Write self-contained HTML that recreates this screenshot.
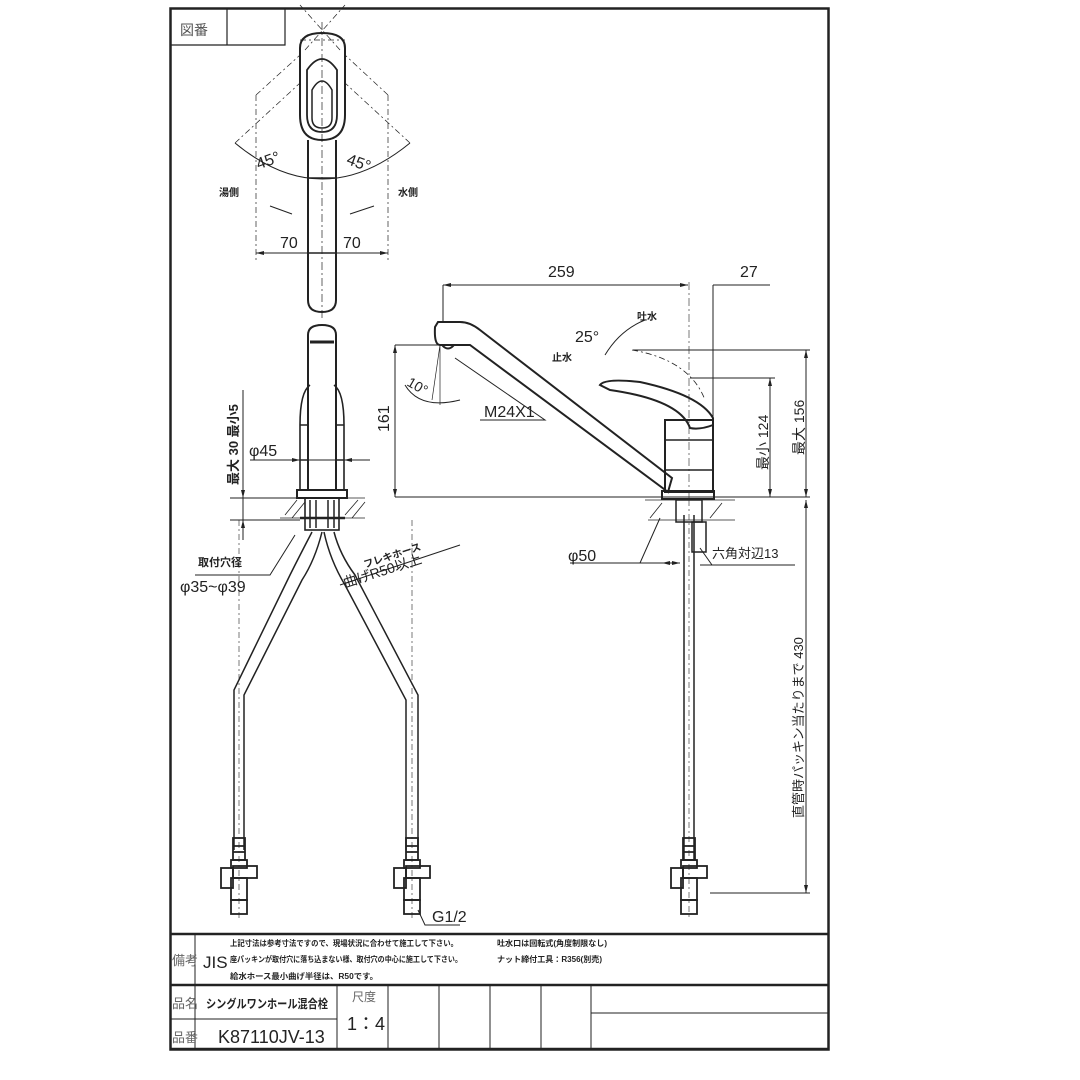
<!DOCTYPE html>
<html><head><meta charset="utf-8"><style>
html,body{margin:0;padding:0;background:#fff}
svg{display:block}
text{font-family:"Liberation Sans","Noto Sans CJK JP",sans-serif;fill:#222}
.d{font-size:16px}
.j{font-size:10px;font-weight:bold}
</style></head><body>
<svg width="1080" height="1080" viewBox="0 0 1080 1080" xmlns="http://www.w3.org/2000/svg">
<defs>
<g id="v" fill="none" stroke="#222" stroke-width="1.8"><rect x="-6" y="0" width="12" height="22"/><path d="M-6 8H6M-6 14H6"/><rect x="-8" y="22" width="16" height="8"/><rect x="-18" y="30" width="12" height="20"/><rect x="-6" y="28" width="24" height="12"/><rect x="-8" y="40" width="16" height="22"/><rect x="-8" y="62" width="16" height="14"/></g>
</defs>
<g fill="none" stroke="#222" stroke-width="1">
<!-- frame -->
<rect x="170.5" y="8.5" width="658" height="1041" stroke-width="2.5"/>
<path d="M170 45H285V8M227 8V45" stroke-width="1.2"/>
<path d="M170 934H828M170 985H828M170 1049H828" stroke-width="2.5"/>
<path d="M195 934V1049M337 985V1049M170 1019H337M388 985V1049M439 985V1049M490 985V1049M541 985V1049M591 985V1049M591 1013H828"/>
<!-- top view -->
<path d="M322 22V320" stroke-dasharray="8 3 2 3" stroke-width="0.7"/>
<path d="M300 48 Q300 33 322 33 Q345 33 345 48 L345 115 Q345 140 322 140 Q300 140 300 115Z" stroke-width="2"/>
<path d="M307 70 Q322 48 337 70 L337 115 Q337 132 322 132 Q307 132 307 115Z" stroke-width="1.8"/>
<path d="M312 90 Q322 72 332 90 L332 118 Q332 128 322 128 Q312 128 312 118Z" stroke-width="1.5"/>
<path d="M308 140 V300 Q308 312 322 312 Q336 312 336 300 V140" stroke-width="2"/>
<path d="M308 178H336M308 253H336" stroke-width="1.5"/>
<path d="M235 143 Q322 215 410 143" stroke-width="1"/>
<path d="M235 143 L300 83M410 143 L345 83M256 95V260M388 95V260M256 95 L300 55M388 95 L345 55M300 40 L345 40M305 50 L345 5M340 50 L300 5" stroke-dasharray="6 3 2 3" stroke-width="0.7"/>
<path d="M256 253H388" />
<path d="M270 206 L292 214M350 214 L374 206"/>
<!-- front view body -->
<path d="M308 490 V335 Q308 325 322 325 Q336 325 336 335 V490" stroke-width="2"/>
<path d="M310 342 H334" stroke-width="3"/>
<path d="M300 490V425 Q300 392 310 385 M344 490 V425 Q344 392 334 385 M300 425H308M336 425H344M300 460H308M336 460H344" stroke-width="1.6"/>
<rect x="297" y="490" width="50" height="8" stroke-width="2"/>
<path d="M280 498H365M280 518H365M285 515 L297 500M292 518 L305 502M345 515 L358 500M352 518 L365 502" stroke-width="0.8"/>
<rect x="305" y="498" width="34" height="32" stroke-width="1.6"/>
<path d="M310 500V528M316 500V528M328 500V528M334 500V528" stroke-width="1.5"/>
<path d="M300 518H345" stroke-width="2.5"/>
<!-- hoses -->
<path d="M312 532 Q300 555 290 575 L234 690 V850 M322 532 Q315 560 302 580 L244 695 V850" stroke-width="1.5"/>
<path d="M324 532 Q330 560 345 585 L406 700 V850 M334 532 Q340 555 355 575 L418 695 V850" stroke-width="1.5"/>
<path d="M684 515 V860 M694 515 V860" stroke-width="1.5"/>
<path d="M689 500 V920M239 520 V918M412 520 V918" stroke-dasharray="6 3 2 3" stroke-width="0.6"/>
<!-- side view -->
<path d="M435 327 L438 322 H460 Q470 322 480 330 L672 478 L668 492 L470 345 H440 Q434 345 435 327Z" stroke-width="2"/>
<path d="M442 345 Q448 352 454 345" stroke-width="2"/>
<rect x="665" y="420" width="48" height="72" stroke-width="2"/>
<path d="M665 440H713M665 470H713" stroke-width="1.6"/>
<rect x="662" y="491" width="52" height="8" stroke-width="2"/>
<path d="M600 385 Q605 378 640 382 Q700 395 713 418 L713 425 Q700 430 690 428 Q680 400 610 390 Z" stroke-width="2"/>
<path d="M632 350 Q690 360 705 400" stroke-dasharray="6 3 2 3" stroke-width="0.8"/>
<path d="M689 282V500" stroke-dasharray="8 3 2 3" stroke-width="0.6"/>
<path d="M645 500H735M648 520H735M650 518 L662 503M710 518 L722 503" stroke-width="0.8"/>
<rect x="676" y="500" width="26" height="22" stroke-width="1.5"/>
<rect x="692" y="522" width="14" height="30" stroke-width="1.5"/>
<!-- dims -->
<path d="M443 285H688M443 285V322M713 285H770M713 285V420M395 345V497M395 345H440M395 497H810M633 350H810M690 378H775M770 378V497M806 350V497M806 500V893M710 893H810"/>
<path d="M243 390V540M230 498H300M230 520H300M250 460H370"/>
<path d="M195 575H270L295 535M340 585L460 545M480 420H545L455 358M570 563H680M640 563L660 518M700 565H795M700 548L712 565M418 910L425 925H460"/>
<path d="M405 385 Q420 410 460 400M605 355 Q620 330 645 320"/>
<path d="M440 345L440 405M440 345L432 400" stroke-width="0.7"/>
</g>
<use href="#v" x="239" y="838"/><use href="#v" x="412" y="838"/><use href="#v" x="689" y="838"/>
<g fill="#222">
<path d="M443 285l8-2v4zM688 285l-8-2v4zM395 345l-2 8h4zM395 497l-2-8h4zM770 378l-2 8h4zM770 497l-2-8h4zM806 350l-2 8h4zM806 497l-2-8h4zM806 500l-2 8h4zM806 893l-2-8h4zM256 253l8-2v4zM388 253l-8-2v4zM243 498l-2-8h4zM243 520l-2 8h4zM300 460l-8-2v4zM344 460l8-2v4zM680 563l-8-2v4zM662 563l8-2v4z"/>
</g>
<text class="d" x="256" y="165" transform="rotate(-20 270 160)">45°</text>
<text class="d" x="348" y="170" transform="rotate(20 365 160)">45°</text>
<text class="j" x="219" y="196">湯側</text>
<text class="j" x="398" y="196">水側</text>
<text class="d" x="280" y="248">70</text>
<text class="d" x="343" y="248">70</text>
<text class="j" x="0" y="0" transform="translate(238 485) rotate(-90)" style="font-size:13px">最大 30 最小5</text>
<text class="d" x="249" y="456">φ45</text>
<text class="j" x="198" y="566" style="font-size:11px">取付穴径</text>
<text class="d" x="180" y="592">φ35~φ39</text>
<text class="j" x="0" y="0" transform="translate(365 568) rotate(-18)">フレキホース</text>
<text class="j" x="0" y="0" transform="translate(345 588) rotate(-18)" style="font-size:14px;font-weight:normal">曲げR50以上</text>
<text class="d" x="548" y="277">259</text>
<text class="d" x="740" y="277">27</text>
<text class="d" x="0" y="0" transform="translate(389 432) rotate(-90)">161</text>
<text class="d" x="0" y="0" transform="translate(406 385) rotate(30)" style="font-size:14px">10°</text>
<text class="d" x="484" y="417">M24X1</text>
<text class="d" x="575" y="342">25°</text>
<text class="j" x="637" y="320">吐水</text>
<text class="j" x="552" y="361">止水</text>
<text class="d" x="0" y="0" transform="translate(768 470) rotate(-90)" style="font-size:14px">最小 124</text>
<text class="d" x="0" y="0" transform="translate(804 455) rotate(-90)" style="font-size:14px">最大 156</text>
<text class="d" x="568" y="561">φ50</text>
<text class="j" x="712" y="558" style="font-size:13px;font-weight:normal">六角対辺13</text>
<text class="d" x="0" y="0" transform="translate(803 818) rotate(-90)" style="font-size:13px">直管時パッキン当たりまで 430</text>
<text class="d" x="432" y="922">G1/2</text>
<text x="180" y="35" style="font-size:14px;fill:#555">図番</text>
<text x="172" y="965" style="font-size:13px;fill:#666">備考</text>
<text x="203" y="968" style="font-size:17px">JIS</text>
<text class="j" x="230" y="946" style="font-size:8px" textLength="228" lengthAdjust="spacingAndGlyphs">上記寸法は参考寸法ですので、現場状況に合わせて施工して下さい。</text>
<text class="j" x="230" y="962" style="font-size:8px" textLength="232" lengthAdjust="spacingAndGlyphs">座パッキンが取付穴に落ち込まない様、取付穴の中心に施工して下さい。</text>
<text class="j" x="230" y="979" style="font-size:8px" textLength="148" lengthAdjust="spacingAndGlyphs">給水ホース最小曲げ半径は、R50です。</text>
<text class="j" x="497" y="946" style="font-size:8px" textLength="110" lengthAdjust="spacingAndGlyphs">吐水口は回転式(角度制限なし)</text>
<text class="j" x="497" y="962" style="font-size:8px" textLength="105" lengthAdjust="spacingAndGlyphs">ナット締付工具：R356(別売)</text>
<text x="172" y="1008" style="font-size:13px;fill:#666">品名</text>
<text x="206" y="1008" style="font-size:12px;font-weight:bold" textLength="122" lengthAdjust="spacingAndGlyphs">シングルワンホール混合栓</text>
<text x="172" y="1042" style="font-size:13px;fill:#666">品番</text>
<text x="218" y="1043" style="font-size:18px">K87110JV-13</text>
<text x="352" y="1001" style="font-size:12px;fill:#666">尺度</text>
<text x="347" y="1030" style="font-size:18px">1：4</text>
</svg>
</body></html>
